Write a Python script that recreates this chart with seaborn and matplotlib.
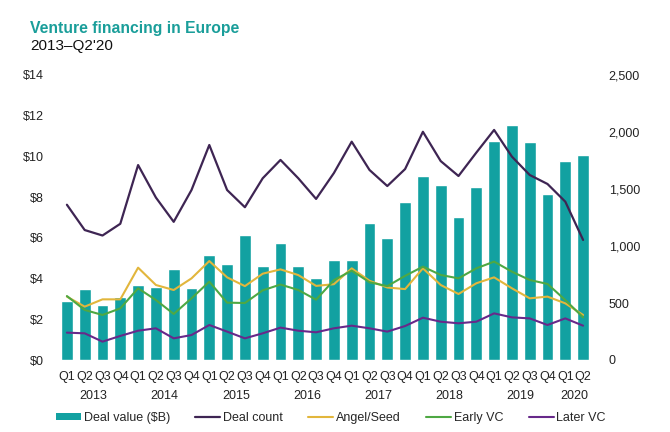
import numpy as np
import pandas as pd
import matplotlib
matplotlib.use("Agg")
import matplotlib.pyplot as plt
import seaborn as sns
from matplotlib.patches import Patch
from matplotlib.lines import Line2D
import matplotlib.transforms as mtransforms

quarters = ["Q1", "Q2", "Q3", "Q4"] * 7 + ["Q1", "Q2"]
years = ["2013", "2014", "2015", "2016", "2017", "2018", "2019", "2020"]

deal_value = [2.9, 3.48, 2.7, 3.08, 3.66, 3.6, 4.46, 3.56, 5.15, 4.7, 6.13, 4.64, 5.77, 4.6, 4.05,
              4.92, 4.92, 6.75, 5.97, 7.74, 9.05, 8.6, 7.02, 8.52, 10.77, 11.52, 10.69, 8.13, 9.77, 10.05]
deal_count = [1362, 1140, 1092, 1195, 1710, 1425, 1212, 1491, 1886, 1491, 1340, 1594, 1755, 1594, 1413,
              1640, 1915, 1667, 1526, 1675, 2002, 1745, 1614, 1819, 2018, 1784, 1623, 1544, 1389, 1053]
angel_seed = [556, 468, 532, 532, 810, 658, 614, 716, 868, 725, 648, 757, 795, 745, 650,
              665, 804, 695, 636, 622, 804, 658, 579, 673, 725, 629, 541, 556, 497, 395]
early_vc = [561, 439, 395, 453, 629, 526, 404, 541, 687, 503, 500, 611, 662, 614, 529,
            700, 784, 682, 648, 738, 819, 746, 716, 804, 863, 775, 702, 667, 526, 374]
later_vc = [240, 234, 161, 211, 257, 278, 190, 219, 307, 249, 190, 234, 284, 257, 243,
            278, 301, 278, 249, 298, 371, 336, 322, 336, 409, 374, 365, 307, 365, 301]

left_ticks = [0, 2, 4, 6, 8, 10, 12, 14]
right_ticks = [0, 500, 1000, 1500, 2000, 2500]

C_BAR = "#12a1a1"
C_COUNT = "#3e2553"
C_ANGEL = "#e2b63c"
C_EARLY = "#4ea843"
C_LATER = "#67298a"

sns.set_theme(style="white")
plt.rcParams["font.family"] = ["Liberation Sans", "DejaVu Sans"]

n = len(deal_value)
idx = np.arange(n)
df = pd.DataFrame({"i": idx, "value": deal_value, "count": deal_count,
                   "angel": angel_seed, "early": early_vc, "later": later_vc})

fig = plt.figure(figsize=(6.7, 4.32), dpi=100)
ax = fig.add_axes([58 / 670, 1 - 360 / 432, (592 - 58) / 670, (360 - 75) / 432])

sns.barplot(data=df, x="i", y="value", color=C_BAR, saturation=1, width=0.66, ax=ax, native_scale=True)
ax.set_xlim(-0.5, n - 0.5)
ax.set_ylim(0, 14)
ax.set_yticks(left_ticks)
ax.set_yticklabels([f"\\${t}" for t in left_ticks], fontsize=9, color="#222222")
ax.set_xticks(idx)
ax.set_xticklabels(quarters, fontsize=9, color="#222222")
ax.tick_params(axis="x", length=0, pad=8)
ax.tick_params(axis="y", length=0, pad=10)
ax.set_xlabel("")
ax.set_ylabel("")

ax2 = ax.twinx()
for col, c, lw in [("count", C_COUNT, 1.6), ("angel", C_ANGEL, 1.5),
                   ("early", C_EARLY, 1.5), ("later", C_LATER, 1.5)]:
    sns.lineplot(data=df, x="i", y=col, color=c, linewidth=lw, ax=ax2)
ax2.set_ylim(0, 2500)
ax2.set_yticks(right_ticks)
ax2.set_yticklabels([f"{t:,}" for t in right_ticks], fontsize=9, color="#222222")
ax2.tick_params(axis="y", length=0, pad=12)
ax2.set_ylabel("")
ax2.set_xlabel("")
ax2.set_xlim(-0.5, n - 0.5)

for a in (ax, ax2):
    for s in a.spines.values():
        s.set_visible(False)
    a.grid(False)

trans = mtransforms.blended_transform_factory(ax.transData, fig.transFigure)
for k, y in enumerate(years):
    start = 4 * k
    end = min(start + 3, n - 1)
    ax.text((start + end) / 2, 1 - 396 / 432, y, transform=trans, ha="center", va="center",
            fontsize=9, color="#222222")

fig.text(30 / 670, 1 - 28 / 432, "Venture financing in Europe", fontsize=11.3, fontweight="bold",
         color="#1a9e9a", ha="left", va="center")
fig.text(30 / 670, 1 - 46 / 432, "2013\u2013Q2'20", fontsize=11, color="#111111", ha="left", va="center")

handles = [Patch(facecolor=C_BAR, edgecolor="none"),
           Line2D([], [], color=C_COUNT, lw=1.6),
           Line2D([], [], color=C_ANGEL, lw=1.5),
           Line2D([], [], color=C_EARLY, lw=1.5),
           Line2D([], [], color=C_LATER, lw=1.5)]
labels = ["Deal value (\\$B)", "Deal count", "Angel/Seed", "Early VC", "Later VC"]
fig.legend(handles, labels, loc="center", bbox_to_anchor=(331 / 670, 1 - 418 / 432), ncol=5,
           frameon=False, fontsize=9, handlelength=2.0, handleheight=0.55, handletextpad=0.2,
           columnspacing=2.05, borderpad=0, borderaxespad=0)

fig.savefig("out.png", dpi=100)
